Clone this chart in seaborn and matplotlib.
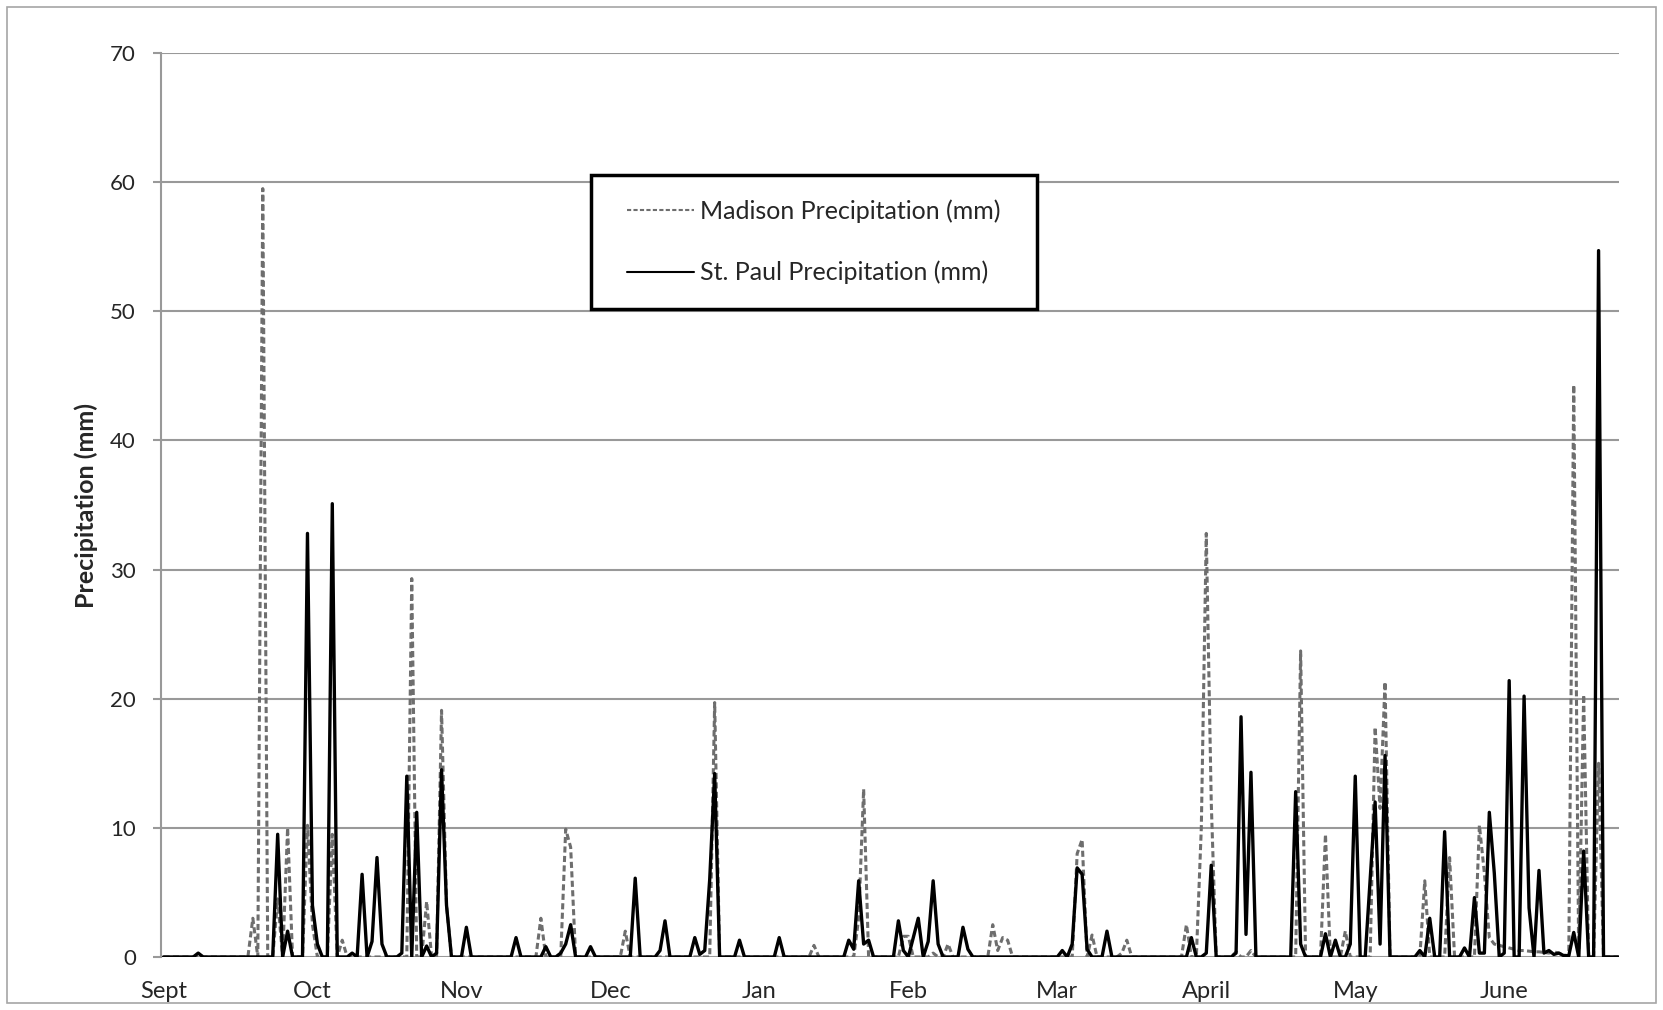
import numpy as np
import pandas as pd
import matplotlib
matplotlib.use("Agg")
import matplotlib.pyplot as plt
import seaborn as sns
from matplotlib.patches import Rectangle

# ==========================
# Data (daily precipitation, days counted from Sept 1; unlisted days = 0)
# ==========================

n_days = 294

month_labels = ["Sept", "Oct", "Nov", "Dec", "Jan", "Feb", "Mar", "April", "May", "June"]
month_ticks = [0, 30, 60, 90, 120, 150, 180, 210, 240, 270]

madison_days = [18, 20, 23, 25, 29, 30, 34, 36, 50, 53, 56, 57,
                76, 81, 82, 93, 111, 131, 140, 141, 149, 150, 155, 158,
                167, 168, 169, 170, 184, 185, 187, 193, 194,
                206, 209, 210, 211, 216, 219, 229, 234, 238, 244, 245, 246,
                254, 259, 265, 266, 267, 268, 269, 270, 271, 272, 273, 274,
                275, 276, 277, 278, 279, 280, 281, 282, 283, 284, 286, 289]
madison_mm = [3.0, 59.5, 4.5, 10.0, 10.2, 2.5, 9.5, 1.3, 29.3, 4.3, 19.1, 4.0,
              3.0, 9.9, 8.5, 2.0, 19.7, 0.9, 3.0, 13.0, 1.6, 1.6, 0.3, 1.0,
              2.5, 0.5, 1.5, 1.3, 8.0, 9.1, 1.7, 0.3, 1.3,
              2.5, 10.0, 32.8, 12.0, 0.4, 0.5, 23.7, 9.5, 2.0, 17.8, 11.5, 21.3,
              5.9, 7.7, 10.2, 6.5, 1.5, 1.0, 0.9, 0.8, 0.7, 0.6, 0.5, 0.5,
              0.45, 0.4, 0.4, 0.35, 0.3, 0.4, 0.3, 0.15, 0.1, 44.3, 20.3, 15.0]

stpaul_days = [7, 23, 25, 29, 30, 31, 34, 38, 40, 42, 43, 44, 48, 49, 51, 53, 55,
               56, 57, 61, 71, 77, 80, 81, 82, 86, 95, 100, 101, 107, 108, 109,
               110, 111, 116, 124, 138, 139, 140, 141, 142, 148, 149, 151, 152,
               154, 155, 156, 161, 162, 181, 183, 184, 185, 186, 190,
               207, 210, 211, 216, 217, 218, 219, 228, 229, 234, 236, 239, 240,
               243, 244, 245, 246, 253, 255, 258, 262, 264, 265, 266, 267, 268,
               270, 271, 274, 275, 277, 278, 279, 280, 281, 282, 283, 284, 286, 289]
stpaul_mm = [0.3, 9.5, 2.0, 32.8, 4.0, 1.0, 35.1, 0.3, 6.4, 1.2, 7.7, 1.0, 0.3, 14.0, 11.2, 0.85, 0.3,
             14.5, 4.0, 2.3, 1.5, 0.8, 0.3, 1.0, 2.5, 0.8, 6.1, 0.5, 2.8, 1.5, 0.2, 0.5,
             6.0, 14.2, 1.3, 1.5, 1.3, 0.6, 5.9, 1.0, 1.3, 2.8, 0.5, 1.5, 3.0,
             1.2, 5.9, 1.0, 2.3, 0.6, 0.5, 1.0, 6.9, 6.4, 0.6, 2.0,
             1.5, 0.3, 7.1, 0.3, 18.6, 1.75, 14.3, 12.8, 1.0, 1.8, 1.3, 1.0, 14.0,
             6.0, 12.0, 1.0, 15.6, 0.5, 3.0, 9.7, 0.7, 4.6, 0.3, 0.3, 11.2, 6.5,
             0.3, 21.4, 20.2, 3.8, 6.7, 0.3, 0.5, 0.2, 0.3, 0.1, 0.1, 1.9, 8.2, 54.7]

# ==========================
# Build table
# ==========================

df = pd.DataFrame({"day": np.arange(n_days)})
df["madison"] = 0.0
df["stpaul"] = 0.0
df.loc[madison_days, "madison"] = madison_mm
df.loc[stpaul_days, "stpaul"] = stpaul_mm

# ==========================
# Plot
# ==========================

sns.set_style("white")
plt.rcParams["font.family"] = ["Lato", "DejaVu Sans"]

fig = plt.figure(figsize=(16.63, 10.10), dpi=100)
ax = fig.add_axes([0.0968, 0.0525, 0.877, 0.895])

grid_col = "#999999"

sns.lineplot(data=df, x="day", y="madison", ax=ax, color="#6e6e6e",
             linewidth=2.2, label="Madison Precipitation (mm)")
ax.lines[-1].set_dashes([2.0, 1.1])
sns.lineplot(data=df, x="day", y="stpaul", ax=ax, color="black",
             linewidth=2.4, label="St. Paul Precipitation (mm)")

ax.set_ylim(0, 70)
ax.set_xlim(-0.5, 293.2)
ax.set_yticks(range(0, 71, 10))
ax.set_xticks(month_ticks)
ax.set_xticklabels(month_labels)

ax.yaxis.grid(True, color=grid_col, linewidth=1.5)
ax.set_axisbelow(True)
for side in ["top", "right", "bottom"]:
    ax.spines[side].set_visible(False)
ax.spines["left"].set_color(grid_col)
ax.spines["left"].set_linewidth(1.5)

ax.tick_params(axis="y", direction="out", length=6, width=1.5, color=grid_col,
               pad=12, labelsize=16, left=True)
ax.tick_params(axis="x", length=0, pad=17, labelsize=17)

ax.set_xlabel("")
ax.set_ylabel("Precipitation (mm)", fontsize=18, fontweight="bold", labelpad=9)

# legend text without frame, box drawn separately (wider side padding)
leg = ax.legend(loc="center", bbox_to_anchor=(0.4476, 0.791), fontsize=18,
                handlelength=2.7, handletextpad=0.25, labelspacing=1.5,
                borderpad=0.9, borderaxespad=0, frameon=False)
for h in leg.get_lines():
    h.set_linewidth(1.5)
ax.add_patch(Rectangle((0.2947, 0.7173), 0.6008 - 0.2947, 0.865 - 0.7173,
                       transform=ax.transAxes, facecolor="white",
                       edgecolor="black", linewidth=2.5, zorder=4))
leg.set_zorder(5)

fig.patches.append(Rectangle((7 / 1663, 7 / 1010), 1 - 14 / 1663, 1 - 14 / 1010,
                             transform=fig.transFigure, fill=False,
                             edgecolor="#a6a6a6", linewidth=1.2))

fig.savefig("out.png", dpi=100)
